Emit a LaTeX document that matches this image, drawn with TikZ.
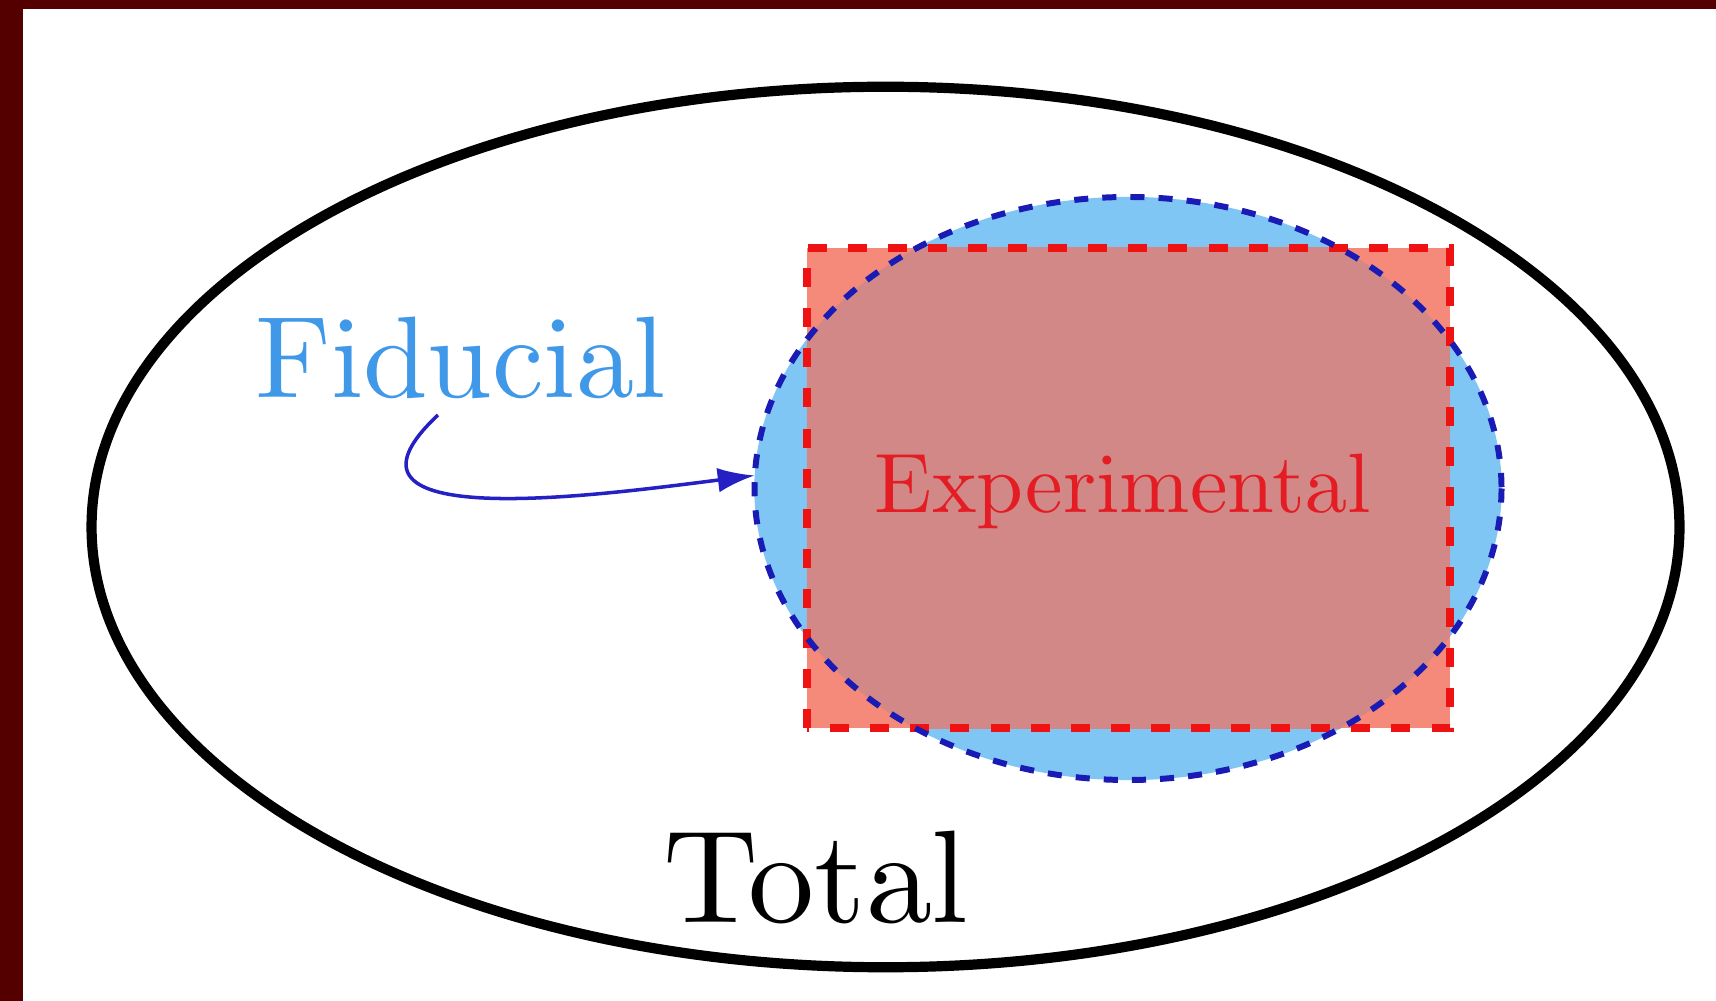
\documentclass[tikz,border=0pt]{standalone}
\usetikzlibrary{shapes.geometric,arrows.meta}
\font\fidfont=cmr10 at 33pt
\font\expfont=cmr10 at 24pt
\font\totfont=cmr10 at 37.5pt
\definecolor{frame}{RGB}{85,0,0}
\definecolor{fidfill}{RGB}{128,198,245}
\definecolor{expfill}{RGB}{245,138,122}
\definecolor{overlapfill}{RGB}{209,136,134}
\definecolor{expline}{RGB}{238,18,18}
\definecolor{fidline}{RGB}{26,26,180}
\definecolor{fidtext}{RGB}{64,152,232}
\definecolor{exptext}{RGB}{228,28,36}
\definecolor{arrowcol}{RGB}{36,32,196}
\tikzset{
  totalshape/.style={ellipse, draw=black, line width=2.9pt, inner sep=0pt, outer sep=0pt,
    minimum width=15.87cm, minimum height=8.80cm},
  fidshape/.style={ellipse, inner sep=0pt, outer sep=0pt, minimum width=7.47cm, minimum height=5.83cm},
  expshape/.style={rectangle, inner sep=0pt, outer sep=0pt, minimum width=6.43cm, minimum height=4.80cm},
  expborder/.style={draw=expline, line width=2.3pt, dash pattern=on 5.4pt off 6pt, line join=miter},
  fidborder/.style={draw=fidline, line width=1.7pt, dash pattern=on 4pt off 4pt},
  labeltext/.style={inner sep=0pt, outer sep=0pt, anchor=base},
  pointer/.style={draw=arrowcol, line width=1pt, -{Latex[length=10.5pt, width=7pt]}}
}
\begin{document}
\begin{tikzpicture}[x=0.01cm, y=-0.01cm]
  \useasboundingbox (0,0) rectangle (1716,1001);
  \fill[white] (0,0) rectangle (1716,1001);
  \fill[frame] (0,0) rectangle (23,1001);
  \fill[frame] (0,0) rectangle (1716,9);

  \node[totalshape] (total) at (885.5,527) {};

  \node[fidshape, fill=fidfill] (fid) at (1128,488.5) {};
  \node[expshape, fill=expfill] (exp) at (1128.5,488) {};
  \begin{scope}
    \clip (exp.south west) rectangle (exp.north east);
    \fill[overlapfill] (fid.center) ellipse [x radius=373.5, y radius=291.5];
  \end{scope}
  \draw[expborder] (exp.south west) rectangle (exp.north east);
  \draw[fidborder] (fid.center) ellipse [x radius=373.5, y radius=291.5];

  \node[labeltext, text=exptext, font=\expfont] (explabel) at (1123,513) {Experimental};
  \node[labeltext, text=fidtext, font=\fidfont] (fidlabel) at (461,398) {Fiducial};
  \node[labeltext, text=black, font=\totfont] (totallabel) at (816,922) {Total};

  \draw[pointer] ([xshift=-0.23cm, yshift=-0.17cm]fidlabel.base) .. controls (310,535) and (600,495) .. (fid.178);
\end{tikzpicture}
\end{document}
